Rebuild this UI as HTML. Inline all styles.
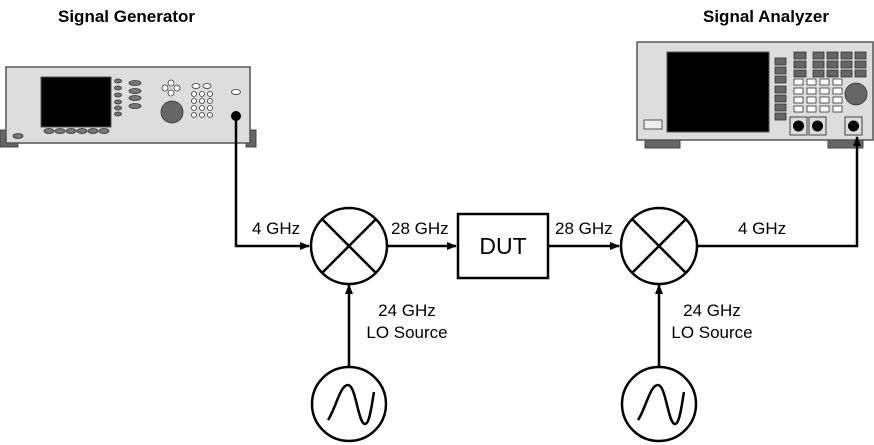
<!DOCTYPE html>
<html><head><meta charset="utf-8"><style>
html,body{margin:0;padding:0;background:#fff;}
svg{display:block;font-family:"Liberation Sans",Arial,sans-serif;}
</style></head><body>
<svg width="874" height="445" viewBox="0 0 874 445" xmlns="http://www.w3.org/2000/svg">
<defs><marker id="a" markerWidth="10" markerHeight="8" refX="9" refY="4" orient="auto" markerUnits="userSpaceOnUse"><path d="M0,0 L10,4 L0,8 z" fill="#000"/></marker></defs>
<text x="58" y="22" font-size="17" font-weight="bold">Signal Generator</text>
<text x="703" y="22" font-size="17" font-weight="bold">Signal Analyzer</text>
<!-- Signal generator -->
<rect x="0" y="130" width="18" height="17" fill="#666" stroke="#444"/>
<rect x="246" y="130" width="10" height="17" fill="#666" stroke="#444"/>
<rect x="6" y="67" width="244" height="76" fill="#ddd" stroke="#555" stroke-width="1.5"/>
<rect x="41" y="77" width="70" height="50" fill="#000" stroke="#555"/>
<g fill="#777" stroke="#333" stroke-width="0.8">
<ellipse cx="118" cy="81" rx="3.5" ry="2"/><ellipse cx="118" cy="88" rx="3.5" ry="2"/><ellipse cx="118" cy="95" rx="3.5" ry="2"/><ellipse cx="118" cy="102" rx="3.5" ry="2"/><ellipse cx="118" cy="108" rx="3.5" ry="2"/><ellipse cx="118" cy="114" rx="3.5" ry="2"/>
<ellipse cx="135" cy="83" rx="6" ry="2.5"/><ellipse cx="135" cy="91" rx="6" ry="2.5"/><ellipse cx="135" cy="98" rx="6" ry="2.5"/><ellipse cx="135" cy="106" rx="6" ry="2.5"/>
<ellipse cx="49" cy="131" rx="5" ry="2.5"/><ellipse cx="60" cy="131" rx="5" ry="2.5"/><ellipse cx="71" cy="131" rx="5" ry="2.5"/><ellipse cx="82" cy="131" rx="5" ry="2.5"/><ellipse cx="93" cy="131" rx="5" ry="2.5"/><ellipse cx="104" cy="131" rx="5" ry="2.5"/>
<ellipse cx="18" cy="136" rx="5" ry="2.5"/>
<circle cx="172" cy="112" r="11" fill="#666"/>
</g>
<g fill="#fff" stroke="#333" stroke-width="0.8">
<circle cx="171" cy="83" r="3"/><circle cx="171" cy="93" r="3"/><circle cx="165" cy="88" r="3"/><circle cx="177" cy="88" r="3"/>
<ellipse cx="196" cy="86" rx="4" ry="2.5"/><ellipse cx="207" cy="86" rx="4" ry="2.5"/>
<circle cx="194" cy="94" r="2.5"/><circle cx="202" cy="94" r="2.5"/><circle cx="210" cy="94" r="2.5"/>
<circle cx="194" cy="101" r="2.5"/><circle cx="202" cy="101" r="2.5"/><circle cx="210" cy="101" r="2.5"/>
<circle cx="194" cy="108" r="2.5"/><circle cx="202" cy="108" r="2.5"/><circle cx="210" cy="108" r="2.5"/>
<circle cx="194" cy="115" r="2.5"/><circle cx="202" cy="115" r="2.5"/><circle cx="210" cy="115" r="2.5"/>
<ellipse cx="236" cy="92" rx="4.5" ry="2.5"/>
</g>
<circle cx="236" cy="116" r="5" fill="#000"/>
<!-- Signal analyzer -->
<rect x="645" y="139" width="35" height="9" fill="#666" stroke="#444"/>
<rect x="828" y="139" width="35" height="9" fill="#666" stroke="#444"/>
<rect x="637" y="42" width="236" height="98" fill="#ddd" stroke="#555" stroke-width="1.5"/>
<rect x="667" y="52" width="102" height="80" fill="#000" stroke="#555"/>
<rect x="644" y="120" width="18" height="9" fill="#eee" stroke="#555"/>
<g fill="#666" stroke="#333" stroke-width="0.8">
<rect x="775" y="58" width="11" height="7"/><rect x="775" y="67" width="11" height="7"/><rect x="775" y="76" width="11" height="7"/><rect x="775" y="86" width="11" height="7"/><rect x="775" y="95" width="11" height="7"/><rect x="775" y="104" width="11" height="7"/><rect x="775" y="113" width="11" height="7"/>
<rect x="794" y="52" width="12" height="7"/><rect x="794" y="61" width="12" height="7"/><rect x="794" y="70" width="12" height="7"/>
<rect x="813" y="52" width="11" height="7"/><rect x="827" y="52" width="11" height="7"/><rect x="841" y="52" width="11" height="7"/><rect x="855" y="52" width="11" height="7"/>
<rect x="813" y="61" width="11" height="7"/><rect x="827" y="61" width="11" height="7"/><rect x="841" y="61" width="11" height="7"/><rect x="855" y="61" width="11" height="7"/>
<rect x="813" y="70" width="11" height="7"/><rect x="827" y="70" width="11" height="7"/><rect x="841" y="70" width="11" height="7"/><rect x="855" y="70" width="11" height="7"/>
<circle cx="856" cy="94" r="11"/>
</g>
<g fill="#fff" stroke="#333" stroke-width="0.8">
<rect x="794" y="79" width="9" height="6"/><rect x="807" y="79" width="9" height="6"/><rect x="820" y="79" width="9" height="6"/><rect x="833" y="79" width="9" height="6"/>
<rect x="794" y="88" width="9" height="6"/><rect x="807" y="88" width="9" height="6"/><rect x="820" y="88" width="9" height="6"/><rect x="833" y="88" width="9" height="6"/>
<rect x="794" y="97" width="9" height="6"/><rect x="807" y="97" width="9" height="6"/><rect x="820" y="97" width="9" height="6"/><rect x="833" y="97" width="9" height="6"/>
<rect x="794" y="106" width="9" height="6"/><rect x="807" y="106" width="9" height="6"/><rect x="820" y="106" width="9" height="6"/><rect x="833" y="106" width="9" height="6"/>
</g>
<g fill="#ddd" stroke="#444" stroke-width="1">
<rect x="790" y="117" width="17" height="18"/><rect x="809" y="117" width="17" height="18"/><rect x="845" y="117" width="17" height="18"/>
</g>
<circle cx="798.5" cy="126" r="5.5" fill="#000"/><circle cx="817.5" cy="126" r="5.5" fill="#000"/><circle cx="853.5" cy="126" r="5.5" fill="#000"/>
<!-- connections -->
<g stroke="#000" stroke-width="2.5" fill="none">
<polyline points="236,116 236,246 309,246" marker-end="url(#a)"/>
<line x1="387" y1="246" x2="456" y2="246" marker-end="url(#a)"/>
<line x1="548" y1="246" x2="619" y2="246" marker-end="url(#a)"/>
<polyline points="697,246 857,246 857,137" marker-end="url(#a)"/>
<line x1="349" y1="367" x2="349" y2="285" marker-end="url(#a)"/>
<line x1="659" y1="367" x2="659" y2="285" marker-end="url(#a)"/>
<circle cx="349" cy="246" r="38" fill="#fff"/>
<circle cx="659" cy="246" r="38" fill="#fff"/>
<line x1="322" y1="219" x2="376" y2="273"/><line x1="376" y1="219" x2="322" y2="273"/>
<line x1="632" y1="219" x2="686" y2="273"/><line x1="686" y1="219" x2="632" y2="273"/>
<circle cx="349" cy="404" r="37" fill="#fff"/>
<circle cx="659" cy="404" r="37" fill="#fff"/>
<path d="M328,420 C336,408 340,385 348,385 C356,385 358,424 365,424 C370,424 372,402 374,392"/>
<path d="M638,420 C646,408 650,385 658,385 C666,385 668,424 675,424 C680,424 682,402 684,392"/>
<rect x="458" y="214" width="90" height="64" fill="#fff"/>
</g>
<g font-size="17" fill="#000">
<text x="503" y="254" font-size="23" text-anchor="middle">DUT</text>
<text x="252" y="234">4 GHz</text>
<text x="391" y="234">28 GHz</text>
<text x="555" y="234">28 GHz</text>
<text x="738" y="234">4 GHz</text>
<text x="407" y="316" text-anchor="middle">24 GHz</text>
<text x="407" y="338" text-anchor="middle">LO Source</text>
<text x="712" y="316" text-anchor="middle">24 GHz</text>
<text x="712" y="338" text-anchor="middle">LO Source</text>
</g>
</svg>
</body></html>
